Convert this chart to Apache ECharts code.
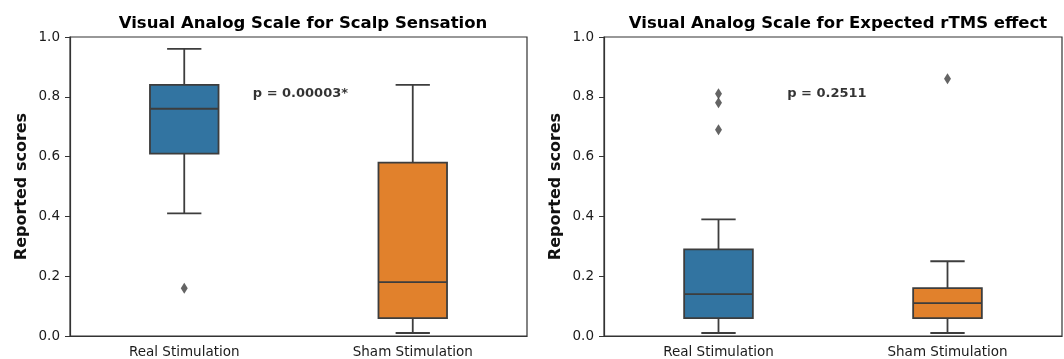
<!DOCTYPE html>
<html>
<head>
<meta charset="utf-8">
<script src="https://cdn.jsdelivr.net/npm/echarts@6/dist/echarts.min.js"></script>
<style>
html,body{margin:0;padding:0;background:#fff;}
#chart{width:1064px;height:359px;}
</style>
</head>
<body>
<div id="chart"></div>
<script>
// ---- data ----
const categories = ['Real Stimulation', 'Sham Stimulation'];
const yTicks = [0.0, 0.2, 0.4, 0.6, 0.8, 1.0];
const titles = ['Visual Analog Scale for Scalp Sensation', 'Visual Analog Scale for Expected rTMS effect'];
const yName = 'Reported scores';
// [category index, lower whisker, Q1, median, Q3, upper whisker]
const scalpBoxes = [
  [0, 0.41, 0.61, 0.76, 0.84, 0.96],
  [1, 0.01, 0.06, 0.18, 0.58, 0.84]
];
const scalpOutliers = [[0, 0.16]];
const rtmsBoxes = [
  [0, 0.01, 0.06, 0.14, 0.29, 0.39],
  [1, 0.01, 0.06, 0.11, 0.16, 0.25]
];
const rtmsOutliers = [[0, 0.81], [0, 0.78], [0, 0.69], [1, 0.86]];
const scalpP = [[0.3, 0.8, 'p = 0.00003*']];
const rtmsP = [[0.3, 0.8, 'p = 0.2511']];

// ---- styles ----
const palette = ['#3274a1', '#e1812c'];
const edge = '#3d3d3d';
const FONT = 'DejaVu Sans';

function renderBox(params, api) {
  const i = api.value(0);
  const lo = api.coord([i, api.value(1)]);
  const q1 = api.coord([i, api.value(2)]);
  const md = api.coord([i, api.value(3)]);
  const q3 = api.coord([i, api.value(4)]);
  const hi = api.coord([i, api.value(5)]);
  const band = api.size([1, 0])[0];
  const hw = band * 0.15, cw = band * 0.075;
  const x = md[0];
  const ls = {stroke: edge, lineWidth: 1.8};
  return {
    type: 'group',
    children: [
      {type: 'line', shape: {x1: x, y1: lo[1], x2: x, y2: q1[1]}, style: ls},
      {type: 'line', shape: {x1: x, y1: q3[1], x2: x, y2: hi[1]}, style: ls},
      {type: 'line', shape: {x1: x - cw, y1: lo[1], x2: x + cw, y2: lo[1]}, style: ls},
      {type: 'line', shape: {x1: x - cw, y1: hi[1], x2: x + cw, y2: hi[1]}, style: ls},
      {type: 'rect', shape: {x: x - hw, y: q3[1], width: 2 * hw, height: q1[1] - q3[1]},
        style: {fill: palette[i], stroke: edge, lineWidth: 1.8}},
      {type: 'line', shape: {x1: x - hw, y1: md[1], x2: x + hw, y2: md[1]}, style: ls}
    ]
  };
}

const grids = [
  {left: 70, top: 37, width: 457, height: 299},
  {left: 604, top: 37, width: 458, height: 299}
];

function catAxis(g) {
  return {
    type: 'category', gridIndex: g, data: categories,
    axisLine: {onZero: false, lineStyle: {color: '#333', width: 1.2}},
    axisTick: {alignWithLabel: true, length: 5, lineStyle: {color: '#333'}},
    axisLabel: {fontFamily: FONT, fontSize: 13.5, color: '#1a1a1a', margin: 9},
    splitLine: {show: false}
  };
}
function hiddenX(g) {
  return {type: 'value', gridIndex: g, min: -0.5, max: 1.5, show: false,
    axisLine: {onZero: false}};
}
function valAxis(g) {
  return {
    type: 'value', gridIndex: g, min: yTicks[0], max: yTicks[yTicks.length - 1], interval: 0.2,
    name: yName, nameLocation: 'middle', nameGap: 40,
    nameTextStyle: {fontFamily: FONT, fontSize: 16, fontWeight: 'bold', color: '#111'},
    axisLine: {show: true, onZero: false, lineStyle: {color: '#333', width: 1.2}},
    axisTick: {show: true, length: 5, lineStyle: {color: '#333'}},
    axisLabel: {fontFamily: FONT, fontSize: 13.5, color: '#1a1a1a', margin: 10,
      formatter: v => v.toFixed(1)},
    splitLine: {show: false}
  };
}

function pSeries(xi, yi, data) {
  return {
    type: 'scatter', xAxisIndex: xi, yAxisIndex: yi, data: data, symbolSize: 0,
    silent: true, itemStyle: {color: '#000'},
    label: {show: true, position: 'right', distance: 0, verticalAlign: 'bottom', offset: [0, 3],
      formatter: p => p.data[2], textBorderWidth: 0,
      fontFamily: FONT, fontSize: 13, fontWeight: 'bold', color: '#000'}
  };
}

const option = {
  backgroundColor: '#fff',
  animation: false,
  title: [
    {text: titles[0], left: 298, top: 10, textAlign: 'center',
      textStyle: {fontFamily: FONT, fontSize: 16.5, fontWeight: 'bold', color: '#000'}},
    {text: titles[1], left: 833, top: 10, textAlign: 'center',
      textStyle: {fontFamily: FONT, fontSize: 16.5, fontWeight: 'bold', color: '#000'}}
  ],
  grid: grids.map(g => Object.assign({show: true, borderColor: '#333', borderWidth: 1.2, backgroundColor: 'transparent'}, g)),
  xAxis: [catAxis(0), hiddenX(0), catAxis(1), hiddenX(1)],
  yAxis: [valAxis(0), valAxis(1)],
  series: [
    {type: 'custom', xAxisIndex: 0, yAxisIndex: 0, data: scalpBoxes, renderItem: renderBox},
    {type: 'scatter', xAxisIndex: 0, yAxisIndex: 0, data: scalpOutliers, symbol: 'diamond',
      symbolSize: [7, 11], itemStyle: {color: edge}},
    pSeries(1, 0, scalpP),
    {type: 'custom', xAxisIndex: 2, yAxisIndex: 1, data: rtmsBoxes, renderItem: renderBox},
    {type: 'scatter', xAxisIndex: 2, yAxisIndex: 1, data: rtmsOutliers, symbol: 'diamond',
      symbolSize: [7, 11], itemStyle: {color: edge}},
    pSeries(3, 1, rtmsP)
  ]
};

const chart = echarts.init(document.getElementById('chart'), null, {renderer: 'canvas'});
chart.setOption(option);
</script>
</body>
</html>
